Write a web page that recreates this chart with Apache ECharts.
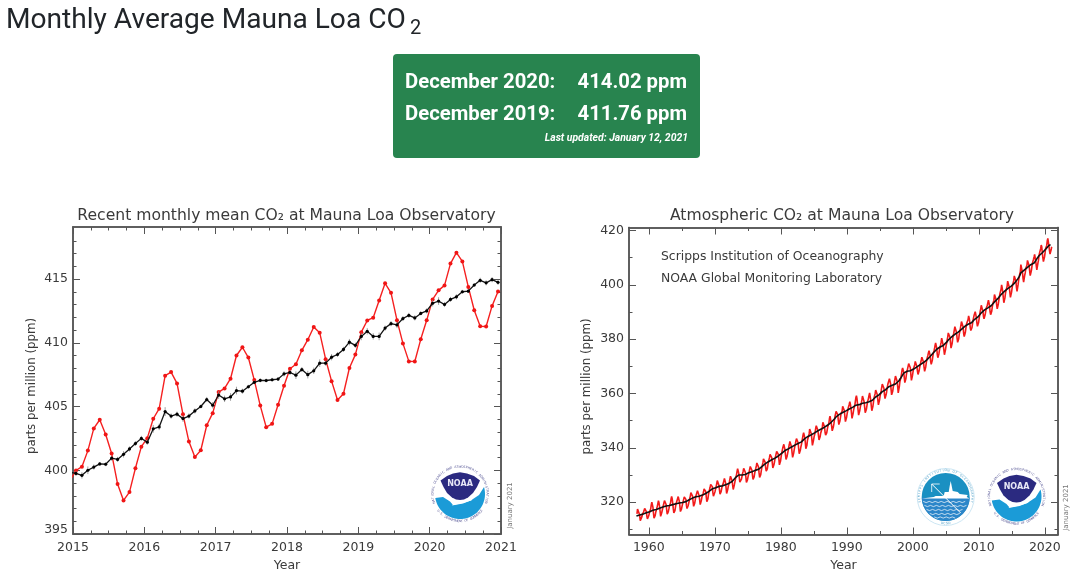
<!DOCTYPE html>
<html><head><meta charset="utf-8">
<style>html,body{margin:0;padding:0;background:#fff}#c{width:1080px;height:580px}</style>
<script src="https://cdn.jsdelivr.net/npm/echarts@6/dist/echarts.min.js"></script>
</head><body><div id="c"></div>
<script>
// ---- recent panel (monthly, Jan 2015 - Dec 2020)
const recentStart = 2014.9583; // Dec 2014 mid-month, so the line enters from the axis
const recentMonthly = [399.2,
399.98,400.28,401.54,403.28,403.96,402.80,401.31,398.93,397.63,398.29,400.16,401.85,
402.52,404.04,404.83,407.42,407.70,406.81,404.39,402.25,401.03,401.57,403.53,404.48,
406.13,406.42,407.18,409.00,409.65,408.84,407.07,405.07,403.38,403.64,405.14,406.63,
407.96,408.32,409.41,410.24,411.24,410.79,408.71,406.99,405.51,406.00,408.02,409.07,
410.83,411.75,411.97,413.32,414.66,413.92,411.77,409.95,408.54,408.53,410.27,411.76,
413.40,414.11,414.50,416.21,417.07,416.38,414.38,412.55,411.29,411.28,412.89,414.02];
const recentTrend = [399.85,
399.75,399.6,400.0,400.25,400.5,400.47,400.95,400.85,401.25,401.67,402.1,402.5,
402.2,403.25,403.4,404.6,404.25,404.4,404.05,404.25,404.65,405.0,405.55,405.1,
405.9,405.6,405.75,406.25,406.2,406.55,406.9,407.05,407.04,407.1,407.15,407.56,
407.67,407.46,407.9,407.5,407.8,408.4,408.4,408.87,409.08,409.48,410.05,409.8,
410.5,410.9,410.5,410.5,411.15,411.5,411.4,411.9,412.15,411.95,412.3,412.5,
413.1,413.27,413.0,413.4,413.6,414.0,414.05,414.53,414.9,414.7,414.95,414.74];
const recentErr = [0.2,
0.2,0.25,0.3,0.2,0.15,0.15,0.2,0.2,0.25,0.2,0.2,0.2,
0.2,0.3,0.25,0.35,0.2,0.2,0.25,0.2,0.2,0.15,0.2,0.25,
0.3,0.25,0.3,0.3,0.2,0.15,0.15,0.15,0.15,0.15,0.15,0.2,
0.2,0.3,0.2,0.3,0.25,0.3,0.2,0.25,0.2,0.2,0.25,0.2,
0.3,0.25,0.25,0.3,0.2,0.2,0.25,0.2,0.2,0.2,0.15,0.2,
0.25,0.3,0.2,0.2,0.2,0.15,0.15,0.15,0.2,0.2,0.2,0.2];
// ---- long panel (monthly from Mar 1958)
const longStart = 1958.2083;
const longMonthly = [
315.71,317.45,317.50,317.10,315.86,314.93,313.20,312.66,313.33,314.67,315.62,
315.62,316.38,316.71,317.72,318.29,318.15,316.54,314.80,313.84,313.26,314.80,315.58,
316.43,316.97,317.58,319.02,320.03,319.59,318.18,315.91,314.16,313.83,315.00,316.19,
316.93,317.70,318.54,319.48,320.58,319.77,318.57,316.79,314.80,315.38,316.10,317.01,
317.94,318.56,319.68,320.57,321.01,320.35,319.16,317.17,315.62,315.27,316.53,317.53,
318.58,318.92,319.70,321.22,322.08,321.31,319.58,317.61,316.05,315.83,316.91,318.20,
319.41,320.07,320.74,321.40,322.06,321.73,320.27,318.54,316.54,316.71,317.53,318.55,
319.27,320.28,320.73,321.97,322.00,321.71,321.05,318.71,317.66,317.14,318.70,319.25,
320.46,321.43,322.23,323.54,323.91,323.59,322.24,320.20,318.48,317.94,319.63,320.87,
322.17,322.34,322.88,324.25,324.83,323.93,322.38,320.76,319.10,319.24,320.56,321.80,
322.40,322.99,323.73,324.86,325.40,325.20,323.98,321.95,320.18,320.09,321.16,322.74,
323.83,324.26,325.47,326.50,327.21,326.54,325.72,323.50,322.22,321.62,322.69,323.95,
324.89,325.82,326.77,327.97,327.91,327.50,326.18,324.53,322.93,322.90,323.85,324.96,
326.01,326.51,327.01,327.62,328.76,328.40,327.20,325.27,323.20,323.40,324.63,325.85,
326.60,327.47,327.58,329.56,329.90,328.92,327.88,326.16,324.68,325.04,326.34,327.39,
328.37,329.40,330.14,331.33,332.31,331.90,330.70,329.15,327.35,327.02,327.99,328.48,
329.18,330.55,331.32,332.48,332.92,332.08,331.01,329.23,327.27,327.21,328.29,329.41,
330.23,331.25,331.87,333.14,333.80,333.43,331.73,329.90,328.40,328.17,329.32,330.59,
331.58,332.39,333.33,334.41,334.71,334.17,332.89,330.77,329.14,328.78,330.14,331.52,
332.75,333.24,334.53,335.90,336.57,336.10,334.76,332.59,331.42,330.98,332.24,333.68,
334.80,335.22,336.47,337.59,337.84,337.72,336.37,334.51,332.60,332.38,333.75,334.78,
336.05,336.59,337.79,338.71,339.30,339.12,337.56,335.92,333.75,333.70,335.12,336.56,
337.84,338.19,339.91,340.60,341.29,341.00,339.39,337.43,335.72,335.84,336.93,338.04,
339.06,340.30,341.21,342.33,342.74,342.08,340.32,338.26,336.52,336.68,338.19,339.44,
340.57,341.44,342.53,343.39,343.96,343.18,341.88,339.65,337.81,337.69,339.09,340.32,
341.20,342.35,342.93,344.77,345.58,345.14,343.81,342.21,339.69,339.82,340.98,342.82,
343.52,344.33,345.11,346.88,347.25,346.62,345.22,343.11,340.90,341.18,342.80,344.04,
344.79,345.82,347.25,348.17,348.74,348.07,346.38,344.51,342.92,342.62,344.06,345.38,
346.11,346.78,347.68,349.37,350.03,349.37,347.76,345.73,344.68,343.99,345.48,346.72,
347.84,348.29,349.23,350.80,351.66,351.07,349.33,347.92,346.27,346.18,347.64,348.78,
350.25,351.54,352.05,353.41,354.04,353.62,352.22,350.27,348.55,348.72,349.91,351.18,
352.60,352.92,353.53,355.26,355.52,354.97,353.75,351.52,349.64,349.83,351.14,352.37,
353.50,354.55,355.23,356.04,357.00,356.07,354.67,352.76,350.82,351.04,352.69,354.07,
354.59,355.63,357.03,358.48,359.22,358.12,356.06,353.92,352.05,352.11,353.64,354.89,
355.88,356.63,357.72,359.07,359.58,359.17,356.94,354.92,352.94,353.23,354.09,355.33,
356.63,357.10,358.32,359.41,360.23,359.55,357.53,355.48,353.67,353.95,355.30,356.78,
358.34,358.89,359.95,361.25,361.67,360.94,359.55,357.49,355.84,356.00,357.59,359.05,
359.98,361.03,361.66,363.48,363.82,363.30,361.94,359.50,358.11,357.80,359.61,360.74,
362.09,363.29,364.06,364.76,365.45,365.01,363.70,361.54,359.51,359.65,360.80,362.38,
363.23,364.06,364.61,366.40,366.84,365.68,364.52,362.57,360.24,360.83,362.49,364.34,
365.16,365.98,367.24,368.66,369.42,368.99,367.82,365.95,364.02,364.40,365.52,367.13,
368.18,369.07,369.68,370.99,370.96,370.30,369.45,366.90,364.81,365.37,366.72,368.10,
369.29,369.55,370.60,371.82,371.58,371.70,369.86,368.13,367.00,367.03,368.37,369.67,
370.59,371.51,372.43,373.37,373.85,373.22,371.50,369.61,368.18,368.45,369.76,371.24,
372.53,373.20,374.12,375.02,375.76,375.52,374.01,371.85,370.75,370.55,372.25,373.79,
374.88,375.64,376.45,377.73,378.60,378.28,376.70,374.38,373.17,373.14,374.66,375.99,
377.00,377.87,378.88,380.35,380.62,379.69,377.47,376.01,374.25,374.46,376.16,377.51,
378.46,379.73,380.77,382.29,382.45,382.21,380.74,378.74,376.70,377.00,378.35,380.11,
381.38,382.19,382.67,384.61,385.03,384.05,382.46,380.41,378.85,379.13,380.15,381.82,
382.89,383.90,384.58,386.50,386.56,386.10,384.50,381.99,380.96,381.12,382.45,383.95,
385.52,385.82,386.03,387.21,388.54,387.76,386.36,384.09,383.18,382.99,384.19,385.56,
386.94,387.48,388.82,389.55,390.14,389.48,388.03,386.11,384.74,384.43,386.02,387.42,
388.71,390.20,391.17,392.46,393.00,392.15,390.20,388.35,387.49,387.20,388.98,390.15,
391.33,391.96,392.49,393.41,394.36,393.78,392.43,390.15,389.00,388.93,390.24,391.83,
393.07,393.35,394.36,396.43,396.87,395.88,394.52,392.54,391.13,391.01,392.95,394.34,
395.61,396.85,397.26,398.35,399.98,398.87,397.37,395.41,393.39,393.70,395.19,396.82,
397.92,398.10,399.47,401.33,401.88,401.31,399.07,397.21,395.40,395.65,397.22,398.79,
399.98,400.28,401.54,403.28,403.96,402.80,401.31,398.93,397.63,398.29,400.16,401.85,
402.52,404.04,404.83,407.42,407.70,406.81,404.39,402.25,401.03,401.57,403.53,404.48,
406.13,406.42,407.18,409.00,409.65,408.84,407.07,405.07,403.38,403.64,405.14,406.63,
407.96,408.32,409.41,410.24,411.24,410.79,408.71,406.99,405.51,406.00,408.02,409.07,
410.83,411.75,411.97,413.32,414.66,413.92,411.77,409.95,408.54,408.53,410.27,411.76,
413.40,414.11,414.50,416.21,417.07,416.38,414.38,412.55,411.29,411.28,412.89,414.02];
// seasonally corrected, one value per quarter from 1958
const longTrendStart = 1958.125;
const longTrend = [
314.9,315.1,315.3,315.5, 315.6,315.9,316.1,316.3, 316.5,316.8,317.0,317.2, 317.3,317.6,317.8,317.9,
318.2,318.4,318.6,318.7, 318.8,319.0,319.1,319.2, 319.4,319.5,319.7,319.8, 319.9,319.9,320.2,320.5,
320.9,321.2,321.5,321.9, 322.0,322.1,322.2,322.5, 322.6,322.9,323.2,323.6, 324.0,324.5,324.9,325.1,
325.3,325.7,325.8,325.9, 326.0,326.2,326.4,326.7, 326.9,327.2,327.6,328.2, 329.0,329.6,330.0,330.2,
330.0,330.1,330.2,330.5, 330.8,331.1,331.2,331.4, 331.7,331.9,332.1,332.5, 333.1,333.7,334.1,334.4,
334.9,335.3,335.6,335.8, 336.2,336.7,337.0,337.5, 338.0,338.7,339.0,339.3, 339.6,340.0,340.3,340.6,
341.0,341.4,341.6,341.8, 342.2,342.9,343.4,343.8, 344.2,344.6,344.8,345.1, 345.5,346.0,346.3,346.6,
346.9,347.3,347.6,347.9, 348.4,349.0,349.4,350.0, 350.6,351.4,351.9,352.3, 352.6,353.0,353.3,353.6,
353.9,354.3,354.6,354.9, 355.2,355.7,355.8,355.9, 356.2,356.4,356.5,356.6, 356.8,357.0,357.2,357.5,
358.1,358.7,359.1,359.5, 360.1,360.7,361.1,361.4, 362.0,362.5,362.9,363.0, 363.1,363.5,363.9,364.6,
365.5,366.5,367.5,368.0, 368.2,368.3,368.4,368.6, 369.0,369.5,369.8,370.0, 370.6,371.1,371.4,371.6,
372.4,373.0,373.6,374.2, 375.0,375.7,376.3,376.7, 377.1,377.5,377.7,378.0, 378.9,379.7,380.3,380.8,
381.2,381.8,382.3,382.6, 383.0,383.6,384.1,384.7, 385.2,385.5,385.9,386.0, 386.6,387.3,387.8,388.2,
388.9,389.7,390.4,390.8, 391.0,391.5,392.0,392.3, 392.9,393.7,394.2,394.9, 395.6,396.4,397.1,397.6,
397.9,398.6,399.0,399.4, 399.9,400.5,401.0,402.1, 403.0,404.4,404.5,405.4, 405.9,406.4,407.0,407.4,
407.6,408.0,408.9,409.9, 410.7,411.1,411.8,412.3, 413.1,413.7,414.5,414.8];
// ---- ticks
const leftYearTicks = [2015,2016,2017,2018,2019,2020,2021];
const leftYearMinor = [2015.25,2015.5,2015.75,2016.25,2016.5,2016.75,2017.25,2017.5,2017.75,2018.25,2018.5,2018.75,2019.25,2019.5,2019.75,2020.25,2020.5,2020.75];
const leftPpmTicks = [395,400,405,410,415];
const leftPpmMinor = [396,397,398,399,401,402,403,404,406,407,408,409,411,412,413,414,416,417,418];
const rightYearTicks = [1960,1970,1980,1990,2000,2010,2020];
const rightYearMinor = [1965,1975,1985,1995,2005,2015];
const rightPpmTicks = [320,340,360,380,400,420];
const rightPpmMinor = [310,330,350,370,390,410];
// ---- text
const pageTitle = 'Monthly Average Mauna Loa CO';
const boxRows = [['December 2020:','414.02 ppm'],['December 2019:','411.76 ppm']];
const boxNote = 'Last updated: January 12, 2021';
const leftTitle = 'Recent monthly mean CO\u2082 at Mauna Loa Observatory';
const rightTitle = 'Atmospheric CO\u2082 at Mauna Loa Observatory';
const credits = ['Scripps Institution of Oceanography','NOAA Global Monitoring Laboratory'];
const stamp = 'January 2021';
const PLOT_FONT = 'DejaVu Sans', INK = '#3a3a3a', FRAME = '#555';

function tSeries(start, step, vals){ return vals.map((v,i)=>[start+i*step, v]); }

const frames = [
 {left:73,top:227,w:428,h:307, x:[2015,2021], y:[395,419.08]},
 {left:629,top:227.5,w:429,h:307, x:[1957,2022], y:[308.1,421.1]}
];
const grids = frames.map(f=>({left:f.left,top:f.top,width:f.w,height:f.h,containLabel:false,show:false}));
const xAxes=[], yAxes=[];
function axis(list, o){ list.push(o); return list.length-1; }
function mk(gridIndex, pos, range, ticks, len, extra){
  return Object.assign({type:'value',gridIndex,position:pos,min:range[0],max:range[1],scale:true,
    splitLine:{show:false},
    axisLine:{show:true,onZero:false,lineStyle:{color:FRAME,width:1.5}},
    axisTick:{show:true,inside:true,length:len,customValues:ticks,lineStyle:{color:FRAME,width:1}},
    axisLabel:{show:false,customValues:ticks}},extra||{});
}
function labelled(fmtLow){ return {show:true,customValues:null,color:INK,fontFamily:PLOT_FONT,fontSize:12.5,margin:5,hideOverlap:false,showMinLabel:true,showMaxLabel:true,
  formatter:fmtLow||(v=>String(v))}; }
function buildAxes(g, fr, xT, xM, yT, yM, lowFmt, yNameGap){
  const bx = mk(g,'bottom',fr.x,xT,7,{name:'Year',nameLocation:'middle',nameGap:24.5,nameTextStyle:{color:INK,fontFamily:PLOT_FONT,fontSize:12.5}});
  bx.axisLabel = Object.assign(labelled(),{customValues:xT,margin:7});
  const xi = axis(xAxes,bx);
  axis(xAxes,mk(g,'bottom',fr.x,xM,3.5));
  axis(xAxes,mk(g,'top',fr.x,xT,7));
  axis(xAxes,mk(g,'top',fr.x,xM,3.5));
  const ly = mk(g,'left',fr.y,yT,7,{name:'parts per million (ppm)',nameLocation:'middle',nameGap:yNameGap,nameTextStyle:{color:INK,fontFamily:PLOT_FONT,fontSize:11.8,padding:[0,11,0,0]}});
  ly.axisLabel = Object.assign(labelled(lowFmt),{customValues:yT,rich:{low:{color:INK,fontFamily:PLOT_FONT,fontSize:12.5,padding:[0,0,8,0]}}});
  const yi = axis(yAxes,ly);
  axis(yAxes,mk(g,'left',fr.y,yM,3.5));
  axis(yAxes,mk(g,'right',fr.y,yT,7));
  axis(yAxes,mk(g,'right',fr.y,yM,3.5));
  return [xi,yi];
}
const [lx,ly] = buildAxes(0,frames[0],leftYearTicks,leftYearMinor,leftPpmTicks,leftPpmMinor,v=>v===395?'{low|395}':String(v),35);
const [rx,ry] = buildAxes(1,frames[1],rightYearTicks,rightYearMinor,rightPpmTicks,rightPpmMinor,null,36);

const series = [
 {type:'line',name:'Monthly mean',xAxisIndex:lx,yAxisIndex:ly,data:tSeries(recentStart,1/12,recentMonthly),
  symbol:'circle',symbolSize:4,showSymbol:true,showAllSymbol:true,clip:true,lineStyle:{color:'#f52020',width:1.4},itemStyle:{color:'#f01515'},animation:false,z:3},
 {type:'custom',name:'Uncertainty',xAxisIndex:lx,yAxisIndex:ly,clip:true,animation:false,z:4,
  data:recentTrend.map((v,i)=>[recentStart+i/12,v,recentErr[i]]),encode:{x:0,y:1},
  renderItem:(p,api)=>{const a=api.coord([api.value(0),api.value(1)-api.value(2)]),b=api.coord([api.value(0),api.value(1)+api.value(2)]);
   return {type:'line',shape:{x1:a[0],y1:a[1],x2:b[0],y2:b[1]},style:{stroke:'#8a8a8a',lineWidth:0.8}};}},
 {type:'line',name:'Seasonally corrected',xAxisIndex:lx,yAxisIndex:ly,data:tSeries(recentStart,1/12,recentTrend),
  symbol:'circle',symbolSize:3.2,showSymbol:true,showAllSymbol:true,clip:true,lineStyle:{color:'#151515',width:1.3},itemStyle:{color:'#000'},animation:false,z:5},
 {type:'line',name:'Monthly mean',xAxisIndex:rx,yAxisIndex:ry,data:tSeries(longStart,1/12,longMonthly),
  symbol:'none',clip:true,lineStyle:{color:'#f21a1a',width:1.6},animation:false,z:3},
 {type:'line',name:'Seasonally corrected',xAxisIndex:rx,yAxisIndex:ry,data:tSeries(longTrendStart,1/4,longTrend),
  symbol:'none',clip:true,lineStyle:{color:'#101010',width:1.6},animation:false,z:5}
];

// ---- graphic helpers (text and the two emblems)
function txt(text,x,y,o){ return {type:'text',x,y,rotation:o.rotation||0,silent:true,z:20,
  style:{text,fill:o.fill||INK,font:`${o.style||'normal'} ${o.weight||'normal'} ${o.size}px "${o.family||PLOT_FONT}"`,
  align:o.align||'left',verticalAlign:'middle'}}; }
function ring(str,r,a0,a1,size,fill,flip){ // characters set along an arc; angles in degrees clockwise from the top
  const out=[]; const n=str.length;
  for(let i=0;i<n;i++){ const a=(a0+(a1-a0)*(n===1?0.5:i/(n-1)))*Math.PI/180;
    const px=r*Math.sin(a), py=-r*Math.cos(a);
    out.push(txt(str[i],px,py,{size,fill,align:'center',family:'DejaVu Sans',rotation:flip?Math.PI-a:-a})); }
  return out;
}
function arcPts(r,a0,a1,n){ const p=[]; for(let i=0;i<=n;i++){const a=(a0+(a1-a0)*i/n)*Math.PI/180;p.push([r*Math.sin(a),-r*Math.cos(a)]);} return p; }
const poly=(points,fill,smooth)=>({type:'polygon',silent:true,z:20,shape:{points,smooth:smooth||0},style:{fill}});
function noaa(cx,cy){
  const kids=[
   {type:'circle',silent:true,z:19,shape:{cx:0,cy:0,r:29},style:{fill:'#fff'}},
   poly(arcPts(25,261,74,46).concat([[19,1],[13,5],[11,6.5],[3,9],[-7,11],[-10,7.5],[-17,3]]),'#1b9bd7'),
   poly([[-19.5,-13.5],[-13,-18],[-7,-20.5],[0,-21.7],[7,-20.5],[14,-18],[20,-13.5],[17,-7],[13,-1],[8,3.5],[4,5.5],[0,6],[-4,5.5],[-8,3.5],[-13,-1],[-16.5,-7]],'#2b2a80'),
   poly([[-8,11.5],[3,9.5],[12,6],[5,6],[-5,8]],'#fff'),
   txt('NOAA',0,-10,{size:8,weight:'bold',fill:'#e8e8f6',align:'center',family:'DejaVu Sans'})
  ].concat(ring('NATIONAL OCEANIC AND ATMOSPHERIC ADMINISTRATION',27.3,-108,108,3.2,'#5a5a98'),
           ring('U.S. DEPARTMENT OF COMMERCE',27.3,232,128,3.2,'#5a5a98',true));
  return {type:'group',x:cx,y:cy,children:kids};
}
function scripps(cx,cy){
  const kids=[
   {type:'circle',silent:true,z:19,shape:{cx:0,cy:0,r:28.5},style:{fill:'#fff',stroke:'#bfdff0',lineWidth:0.8}},
   {type:'circle',silent:true,z:20,shape:{cx:0,cy:0,r:24},style:{fill:'#1a90c2'}},
   poly(arcPts(24,92,268,30),'#2c86c9'),
   poly([[-23.8,1.5],[-12,0],[-10,-1],[-2,-1],[-1,-5],[3,-5],[4,-11],[5,-16],[6,-11],[7,-6],[12,-5],[14,-3],[22,-2],[21,0],[23.8,1.5]],'#fff'),
   {type:'line',silent:true,z:21,shape:{x1:-14,y1:-13,x2:15,y2:16},style:{stroke:'#fff',lineWidth:1}},
   {type:'line',silent:true,z:21,shape:{x1:-14,y1:-13,x2:-14,y2:-5},style:{stroke:'#fff',lineWidth:0.8}},
   {type:'line',silent:true,z:21,shape:{x1:-14,y1:-13,x2:-6,y2:-13},style:{stroke:'#fff',lineWidth:0.8}}
  ];
  [5,9,13,17,20.5].forEach(y=>{ const hw=Math.sqrt(576-y*y)-1, pts=[];
    for(let i=0,x=-hw;x<=hw;x+=3,i++) pts.push([x,y+(i%2?0.6:-0.6)]);
    kids.push({type:'polyline',silent:true,z:21,shape:{points:pts},style:{stroke:'#fff',lineWidth:0.7,fill:null}}); });
  return {type:'group',x:cx,y:cy,children:kids.concat(
    ring('SCRIPPS INSTITUTION OF OCEANOGRAPHY',26.4,-100,100,3,'#4f9fc8'),
    ring('UCSD',26.4,188,172,3.2,'#4f9fc8',true))};
}
const graphic = [
  txt(pageTitle,6,21,{size:28.1,family:'Roboto',fill:'#212529'}),
  txt('2',410,29,{size:20,family:'Roboto',fill:'#212529'}),
  {type:'rect',silent:true,z:10,shape:{x:393,y:54,width:307,height:104,r:4},style:{fill:'#28844f'}},
  txt(boxRows[0][0],405,82.5,{size:20.3,weight:'bold',family:'Roboto',fill:'#fff'}),
  txt(boxRows[0][1],687,82.5,{size:20.3,weight:'bold',family:'Roboto',fill:'#fff',align:'right'}),
  txt(boxRows[1][0],405,114.5,{size:20.3,weight:'bold',family:'Roboto',fill:'#fff'}),
  txt(boxRows[1][1],687,114.5,{size:20.3,weight:'bold',family:'Roboto',fill:'#fff',align:'right'}),
  txt(boxNote,688,138,{size:10.4,weight:'bold',style:'italic',family:'Roboto',fill:'#fff',align:'right'}),
  txt(leftTitle,286.5,216,{size:15.6,align:'center'}),
  txt(rightTitle,842,216,{size:15.6,align:'center'}),
  txt(credits[0],661,257,{size:12.4}),
  txt(credits[1],661,279,{size:12.4}),
  txt(stamp,510,505.5,{size:7,fill:'#777',align:'center',rotation:Math.PI/2}),
  txt(stamp,1066,507.5,{size:7,fill:'#777',align:'center',rotation:Math.PI/2}),
  noaa(460,494), noaa(1016.5,496.5), scripps(945.7,497)
];

const chart = echarts.init(document.getElementById('c'),null,{renderer:'canvas'});
chart.setOption({animation:false,backgroundColor:'#fff',grid:grids,xAxis:xAxes,yAxis:yAxes,series,graphic:{elements:graphic}});
</script></body></html>
